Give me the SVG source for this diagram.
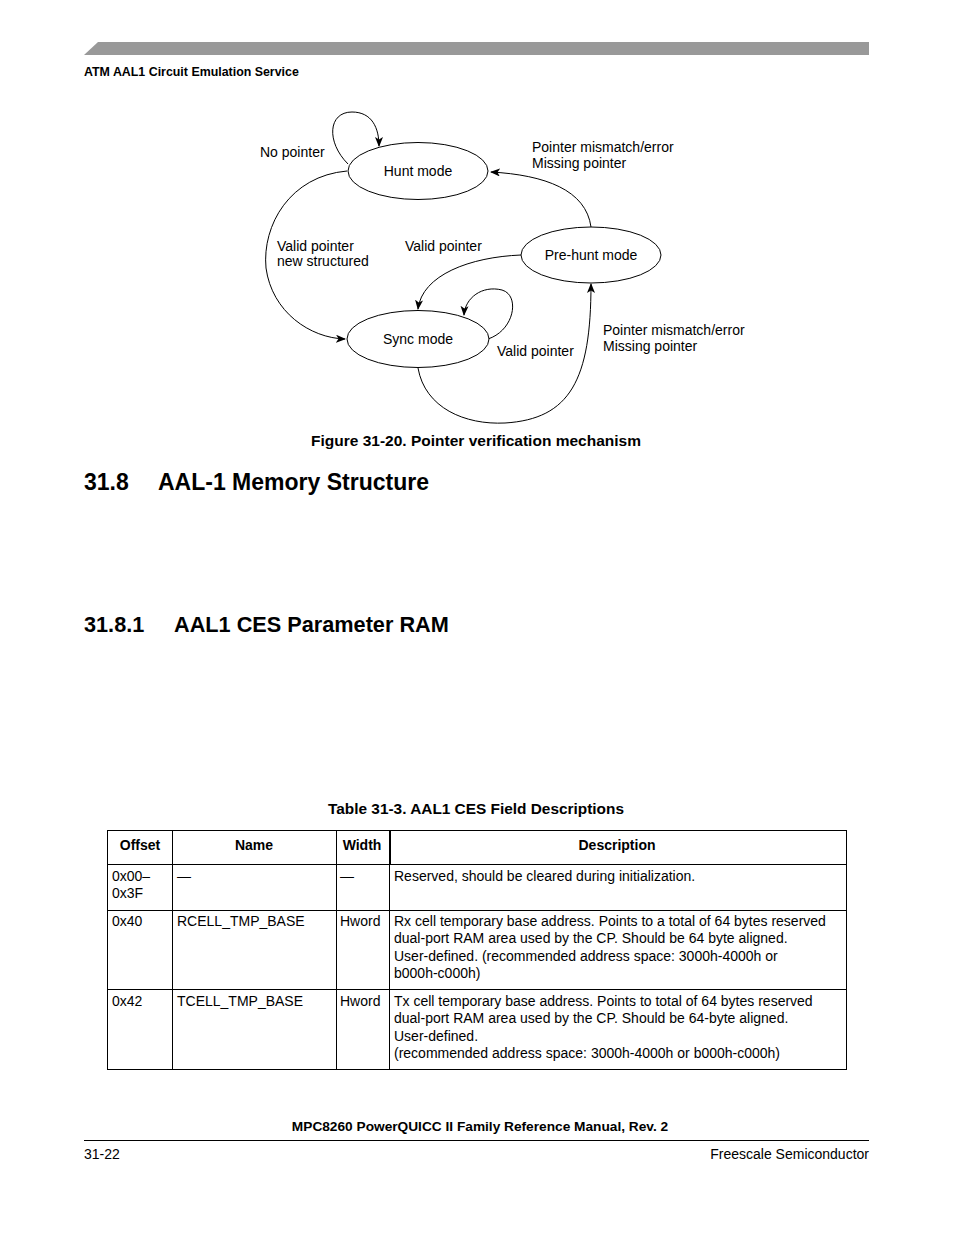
<svg xmlns="http://www.w3.org/2000/svg" width="954" height="1235" viewBox="0 0 954 1235">
<style>
text{font-family:"Liberation Sans",Arial,sans-serif;fill:#000}
.b{font-weight:bold}
.lbl{font-size:14px}
.st{fill:#fff;stroke:#000;stroke-width:1}
.cn{fill:none;stroke:#000;stroke-width:1}
.tb{font-size:14px}
.th{font-size:14px;font-weight:bold}
.tl{stroke:#000;stroke-width:1;fill:none}
</style>
<defs>
<marker id="ah" markerWidth="10" markerHeight="8" refX="9" refY="4" orient="auto" markerUnits="userSpaceOnUse">
<path d="M0,0 L10,4 L0,8 L2.5,4 Z" fill="#000"/>
</marker>
</defs>
<rect width="954" height="1235" fill="#fff"/>
<!-- page header -->
<polygon points="84,55 98,42 869,42 869,55" fill="#999"/>
<text x="84" y="76" class="b" font-size="12.4">ATM AAL1 Circuit Emulation Service</text>

<!-- connectors -->
<g id="connectors">
<path class="cn" d="M348,164 C326,142 328,112 352,112 C372,112 379,128 379,146" marker-end="url(#ah)"/>
<path class="cn" d="M347,171 C290,176 262,225 266,268 C272,312 310,338 345,339" marker-end="url(#ah)"/>
<path class="cn" d="M591,227 C586,190 545,175 491,172" marker-end="url(#ah)"/>
<path class="cn" d="M521,255 C470,257 422,275 418,309" marker-end="url(#ah)"/>
<path class="cn" d="M488,339 C515,330 520,295 502,290 C482,285 465,298 464,315" marker-end="url(#ah)"/>
<path class="cn" d="M418,368 C425,408 465,425 505,423 C570,419 591,380 591,284" marker-end="url(#ah)"/>
</g>

<!-- nodes -->
<g id="hunt">
<ellipse class="st" cx="418" cy="171" rx="70" ry="28.5"/>
<text x="418" y="176" class="lbl" text-anchor="middle">Hunt mode</text>
</g>
<g id="prehunt">
<ellipse class="st" cx="591" cy="255" rx="70" ry="28"/>
<text x="591" y="260" class="lbl" text-anchor="middle">Pre-hunt mode</text>
</g>
<g id="sync">
<ellipse class="st" cx="418" cy="339" rx="71" ry="28.5"/>
<text x="418" y="344" class="lbl" text-anchor="middle">Sync mode</text>
</g>

<!-- edge labels -->
<g id="labels">
<text x="260" y="157" class="lbl">No pointer</text>
<text x="532" y="152" class="lbl">Pointer mismatch/error</text>
<text x="532" y="168" class="lbl">Missing pointer</text>
<text x="277" y="251" class="lbl">Valid pointer</text>
<text x="277" y="266" class="lbl">new structured</text>
<text x="405" y="251" class="lbl">Valid pointer</text>
<text x="497" y="356" class="lbl">Valid pointer</text>
<text x="603" y="335" class="lbl">Pointer mismatch/error</text>
<text x="603" y="351" class="lbl">Missing pointer</text>
</g>

<text x="476" y="446" class="b" font-size="15.5" text-anchor="middle">Figure 31-20. Pointer verification mechanism</text>

<text x="84" y="490" class="b" font-size="23">31.8</text>
<text x="158" y="490" class="b" font-size="23">AAL-1 Memory Structure</text>

<text x="84" y="632" class="b" font-size="21.7">31.8.1</text>
<text x="174" y="632" class="b" font-size="21.7">AAL1 CES Parameter RAM</text>

<text x="476" y="814" class="b" font-size="15.4" text-anchor="middle">Table 31-3. AAL1 CES Field Descriptions</text>

<!-- table -->
<g id="table">
<rect class="tl" x="107.5" y="830.5" width="739" height="239"/>
<line class="tl" x1="107" y1="864.5" x2="847" y2="864.5"/>
<line class="tl" x1="107" y1="910.5" x2="847" y2="910.5"/>
<line class="tl" x1="107" y1="989.5" x2="847" y2="989.5"/>
<line class="tl" x1="172.5" y1="830" x2="172.5" y2="1070"/>
<line class="tl" x1="336.5" y1="830" x2="336.5" y2="1070"/>
<line class="tl" x1="389.5" y1="864" x2="389.5" y2="1070"/>
<line stroke="#000" stroke-width="2" x1="390" y1="830" x2="390" y2="865"/>

<text x="140" y="850" class="th" text-anchor="middle">Offset</text>
<text x="254" y="850" class="th" text-anchor="middle">Name</text>
<text x="362" y="850" class="th" text-anchor="middle">Width</text>
<text x="617" y="850" class="th" text-anchor="middle">Description</text>

<text x="112" y="881" class="tb">0x00–</text>
<text x="112" y="898" class="tb">0x3F</text>
<text x="177" y="881" class="tb">—</text>
<text x="340" y="881" class="tb">—</text>
<text x="394" y="881" class="tb">Reserved, should be cleared during initialization.</text>

<text x="112" y="926" class="tb">0x40</text>
<text x="177" y="926" class="tb">RCELL_TMP_BASE</text>
<text x="340" y="926" class="tb">Hword</text>
<text x="394" y="926" class="tb">Rx cell temporary base address. Points to a total of 64 bytes reserved</text>
<text x="394" y="943" class="tb">dual-port RAM area used by the CP. Should be 64 byte aligned.</text>
<text x="394" y="961" class="tb">User-defined. (recommended address space: 3000h-4000h or</text>
<text x="394" y="978" class="tb">b000h-c000h)</text>

<text x="112" y="1006" class="tb">0x42</text>
<text x="177" y="1006" class="tb">TCELL_TMP_BASE</text>
<text x="340" y="1006" class="tb">Hword</text>
<text x="394" y="1006" class="tb">Tx cell temporary base address. Points to total of 64 bytes reserved</text>
<text x="394" y="1023" class="tb">dual-port RAM area used by the CP. Should be 64-byte aligned.</text>
<text x="394" y="1041" class="tb">User-defined.</text>
<text x="394" y="1058" class="tb">(recommended address space: 3000h-4000h or b000h-c000h)</text>
</g>

<!-- footer -->
<text x="480" y="1131" class="b" font-size="13.7" text-anchor="middle">MPC8260 PowerQUICC II Family Reference Manual, Rev. 2</text>
<line x1="84" y1="1140.5" x2="869" y2="1140.5" stroke="#000" stroke-width="1"/>
<text x="84" y="1159" font-size="14">31-22</text>
<text x="869" y="1159" font-size="14" text-anchor="end">Freescale Semiconductor</text>
</svg>
